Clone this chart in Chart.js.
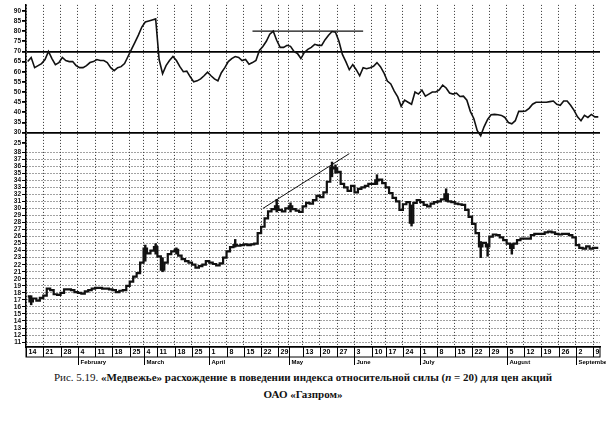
<!DOCTYPE html>
<html>
<head>
<meta charset="utf-8">
<script src="https://cdn.jsdelivr.net/npm/chart.js@4"></script>
<style>
  body { margin: 0; background: #fff; width: 606px; height: 421px; overflow: hidden; position: relative; }
  #wrap { position: absolute; left: 0; top: 0; width: 606px; height: 370px; }
  .cap { position: absolute; left: 0; width: 606px; text-align: center; color: #111;
         font-family: "Liberation Serif", "DejaVu Serif", "Times New Roman", serif; font-size: 11px; font-weight: bold; }
</style>
</head>
<body>
<div id="wrap"><canvas id="chart"></canvas></div>
<div class="cap" style="top:371px"><span style="font-weight:normal">Рис. 5.19.</span> «Медвежье» расхождение в поведении индекса относительной силы (<i>n</i> = 20) для цен акций</div>
<div class="cap" style="top:388px">ОАО «Газпром»</div>
<script>
// weeks shown on the date strip (monday of each week) and trading days in each week
const weekLabels = ['14','21','28','4','11','18','25','4','11','18','25','1','8','15','22','29','','13','20','27','3','10','17','24','1','8','15','22','29','5','12','19','26','2','9'];
const weekDays = [5,5,5, 5,5,5,4, 4,5,5,5, 5,5,5,5,3, 4, 5,5,5, 5,4,5,5, 5,5,5,5,5, 5,5,5,5, 5,2];
const monthNames = ['February','March','April','May','June','July','August','September'];
const monthWeeks = [3,7,11,16,20,24,29,33];

// RSI (n = 20), one value per trading day
const rsi = [65,67,62,63,64,66,70,66.5,63.5,64.5, 67,65.5,65,65,63,62,62,63,64.5,65,
  66,65.5,65.5,64.5,62,60.5,62,62.5,64,67.5, 71,74.5,78,82,84.5,85,85.5,86,66,59,
  63,65.5,67.5,65.5,62.5,60,60.3,57.5,55,55.5, 56.5,58,59.8,58,56.5,55.5,59.5,62,65,66.5,
  67.5,67,65.5,66,63.7,64.5,65.5,70.5,72.4,75, 78.5,80,75.5,72,72,73,72.5,70,69,66.5,
  69.5,71,72,73.5,73,73,75.8,78,79.8,79.5, 75,68.5,65,61,63.5,61,58,62,61.5,62,
  62.7,64.5,62.5,59.5,55.4,54,50.5,47.6,43,46, 45,44,50,49,51,48,49,50,50,51,
  53.4,52,49.5,49,49.5,47.8,48,46,40.5,37, 31,28.5,33,36.5,38.8,39,38.8,38.5,37.5,35,
  34.4,35.9,40.5,40.5,40.7,42,44,45,45,45, 45,45.3,45.6,44,43.5,45.6,45.6,43.5,41,37.8,
  35.9,38.5,37.5,39,37.8,37.8];

// closing price, one value per trading day
const price = [17.5,16.8,17.2,16.9,17.3,17.6,18.6,18.4,17.8,17.7, 18.0,18.5,18.5,18.4,18.1,18.0,17.9,18.2,18.4,18.6,
  18.7,18.7,18.6,18.6,18.5,18.4,18.1,18.3,18.4,19.0, 19.6,20.3,20.8,22.3,24.3,23.6,24.0,24.5,23.2,21.3,
  22.3,23.5,23.9,24.1,23.3,22.8,22.5,22.3,22.0,21.6, 21.8,22.0,22.5,22.3,22.1,21.9,22.2,23.0,23.9,24.5,
  24.8,24.7,24.8,24.9,24.8,24.9,25.0,26.5,27.4,28.6, 29.6,29.9,30.3,29.8,29.6,30.0,30.3,29.9,29.7,29.5,
  30.3,30.8,30.7,31.2,31.8,31.6,32.3,33.8,35.8,35.7, 35.2,33.5,33.0,32.5,33.2,32.3,32.8,33.0,33.2,33.5,
  33.5,34.0,34.1,33.6,33.0,32.2,31.5,31.0,29.8,30.6, 30.9,28.0,30.8,31.2,30.9,30.5,30.3,30.7,30.9,31.0,
  31.3,32.0,31.0,30.9,30.7,30.6,30.5,29.8,28.8,27.8, 26.5,24.6,25.1,24.6,26.0,26.3,26.2,25.9,25.5,25.0,
  24.4,25.0,25.5,25.7,25.7,25.7,26.2,26.4,26.4,26.4, 26.6,26.7,26.6,26.4,26.3,26.4,26.4,26.2,25.9,24.8,
  24.4,24.3,24.6,24.3,24.4,24.4];

// days with a visible high-low bar
const rangeDays  = [1, 34, 37, 39, 43, 60, 72, 76, 88, 89, 101, 111, 121, 131, 133, 140];
const rangeLow   = [16.3, 22.5, 23.5, 21.0, 23.5, 24.5, 29.5, 29.5, 34.5, 35.0, 33.4, 27.5, 31.0, 23.0, 23.2, 23.5];
const rangeHigh  = [17.6, 24.8, 25.0, 23.0, 24.4, 25.6, 31.3, 30.8, 36.6, 36.2, 34.8, 30.5, 32.8, 25.3, 25.0, 25.0];

// hand drawn lines: rising price trend and flat RSI top
const trendDays = [68, 93];
const trendPrices = [30.0, 37.8];
const levelDays = [65, 97];
const levelRsi = [80, 80];

// build day labels and week start indices
const weekStarts = [];
const days = [];
weekDays.forEach((n, w) => {
  weekStarts.push(days.length);
  for (let d = 0; d < n; d++) days.push(d === 0 ? weekLabels[w] : '');
});
const weekStartSet = new Set(weekStarts);

// sparse series for the drawn lines and bars
function sparse(idx, vals) {
  const out = days.map(() => null);
  idx.forEach((d, i) => { out[d] = vals[i]; });
  return out;
}

const dateStrip = {
  id: 'dateStrip',
  afterDraw(chart) {
    const { ctx, chartArea, scales } = chart;
    const x = scales.x;
    const half = (x.getPixelForValue(1) - x.getPixelForValue(0)) / 2;
    const top = chartArea.bottom;
    const bot = top + 10;
    ctx.save();
    ctx.strokeStyle = '#000';
    ctx.fillStyle = '#000';
    ctx.lineWidth = 1;
    ctx.strokeRect(chartArea.left, top, chartArea.right - chartArea.left, 10);
    ctx.font = 'bold 7px Arial';
    ctx.textBaseline = 'middle';
    weekStarts.forEach((idx, w) => {
      const px = Math.round(x.getPixelForValue(idx) - half) + 0.5;
      ctx.beginPath(); ctx.moveTo(px, top); ctx.lineTo(px, bot); ctx.stroke();
      ctx.fillText(weekLabels[w], px + 2, top + 5.5);
    });
    ctx.font = 'bold 6px Arial';
    monthWeeks.forEach((w, m) => {
      const px = Math.round(x.getPixelForValue(weekStarts[w]) - half) + 0.5;
      ctx.beginPath(); ctx.moveTo(px, bot); ctx.lineTo(px, bot + 8); ctx.stroke();
      ctx.fillText(monthNames[m], px + 2, bot + 5);
    });
    ctx.restore();
  }
};

const tickFont = { family: 'Arial', size: 6.5, weight: 'bold' };

new Chart(document.getElementById('chart'), {
  type: 'line',
  data: {
    labels: days,
    datasets: [
      { data: rsi, yAxisID: 'rsi', borderColor: '#111', borderWidth: 1.6, pointRadius: 0, tension: 0 },
      { data: sparse(levelDays, levelRsi), yAxisID: 'rsi', spanGaps: true,
        borderColor: '#111', borderWidth: 1.3, pointRadius: 0 },
      { data: price, yAxisID: 'price', borderColor: '#111', borderWidth: 2.2, pointRadius: 0, stepped: 'middle' },
      { type: 'bar', data: sparse(rangeDays, rangeLow.map((l, i) => [l, rangeHigh[i]])), yAxisID: 'price',
        backgroundColor: '#111', barThickness: 1.8, grouped: false },
      { data: sparse(trendDays, trendPrices), yAxisID: 'price', spanGaps: true,
        borderColor: '#111', borderWidth: 1, pointRadius: 0 }
    ]
  },
  options: {
    responsive: true,
    maintainAspectRatio: false,
    animation: false,
    layout: { padding: { left: 0, right: 6, top: 0, bottom: 23 } },
    plugins: { legend: { display: false }, tooltip: { enabled: false } },
    scales: {
      x: {
        type: 'category',
        offset: true,
        ticks: { display: false, autoSkip: false },
        grid: {
          offset: true,
          drawTicks: false,
          color: (c) => weekStartSet.has(c.index) ? '#333' : 'rgba(0,0,0,0)'
        },
        border: { display: true, color: '#000', width: 1.5, dash: [1, 2] },
        afterFit: (s) => { s.height = 0; }
      },
      price: {
        type: 'linear',
        position: 'left',
        stack: 'panels',
        stackWeight: 204,
        min: 10.3,
        max: 38.9,
        ticks: { stepSize: 1, includeBounds: false, autoSkip: false, font: tickFont, color: '#111', padding: 1 },
        grid: { tickLength: 4, tickColor: '#000', lineWidth: 1, color: '#444' },
        border: { color: '#000', width: 1.5, dash: [1, 2] },
        afterFit: (s) => { s.width = 26; }
      },
      rsi: {
        type: 'linear',
        position: 'left',
        stack: 'panels',
        stackWeight: 143,
        min: 23.5,
        max: 92.9,
        ticks: { stepSize: 5, includeBounds: false, autoSkip: false, font: tickFont, color: '#111', padding: 1 },
        grid: {
          tickLength: 4,
          tickColor: '#000',
          lineWidth: 1.8,
          color: (c) => (c.tick && (c.tick.value === 70 || c.tick.value === 30)) ? '#000' : 'rgba(0,0,0,0)'
        },
        border: { color: '#000', width: 1.5 },
        afterFit: (s) => { s.width = 26; }
      }
    }
  },
  plugins: [dateStrip]
});
</script>
</body>
</html>
